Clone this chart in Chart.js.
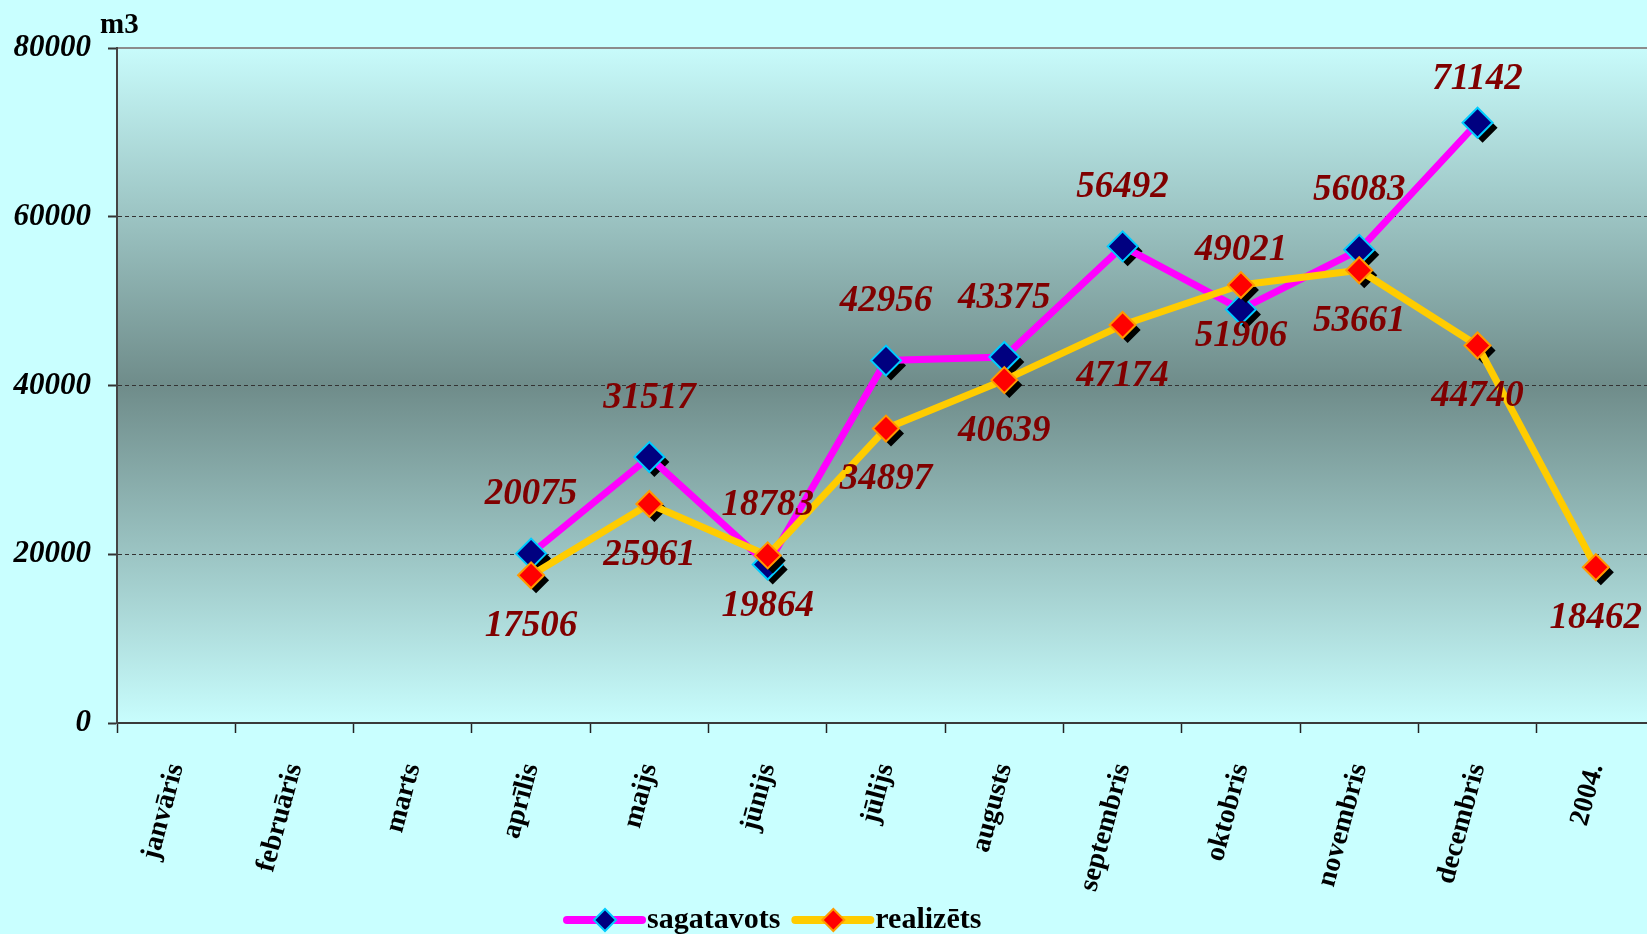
<!DOCTYPE html>
<html>
<head>
<meta charset="utf-8">
<script src="https://cdn.jsdelivr.net/npm/chart.js@4/dist/chart.umd.min.js"></script>
<style>
  html, body { margin: 0; padding: 0; overflow: hidden; background: #c9ffff; }
  #wrap { position: absolute; left: 0; top: 0; width: 1672px; height: 934px; }
</style>
</head>
<body>
<div id="wrap"><canvas id="chart" width="1672" height="934"></canvas></div>
<script>
// months + the year total
const months = ["janvāris", "februāris", "marts", "aprīlis", "maijs", "jūnijs", "jūlijs",
  "augusts", "septembris", "oktobris", "novembris", "decembris", "2004."];
const sagatavots = [null, null, null, 20075, 31517, 18783, 42956, 43375, 56492, 49021, 56083, 71142, null];
const realizets = [null, null, null, 17506, 25961, 19864, 34897, 40639, 47174, 51906, 53661, 44740, 18462];
const yTicks = [0, 20000, 40000, 60000, 80000];

const serif = "'Liberation Serif', 'DejaVu Serif', serif";

function diamond(ctx, x, y, r) {
  ctx.beginPath();
  ctx.moveTo(x - r, y);
  ctx.lineTo(x, y - r);
  ctx.lineTo(x + r, y);
  ctx.lineTo(x, y + r);
  ctx.closePath();
}

// gradient behind the plot, top border line and "m3"
const plotBackground = {
  id: "plotBackground",
  beforeDraw(chart) {
    const {ctx, chartArea: a} = chart;
    const g = ctx.createLinearGradient(0, a.top, 0, a.bottom);
    g.addColorStop(0, "#c8fbfb");
    g.addColorStop(0.5, "#6f8c8a");
    g.addColorStop(1, "#c8fdfd");
    ctx.save();
    ctx.fillStyle = g;
    ctx.fillRect(a.left, a.top, a.right - a.left, a.bottom - a.top);
    ctx.strokeStyle = "#8c8c8c";
    ctx.lineWidth = 2;
    ctx.beginPath();
    ctx.moveTo(a.left, a.top);
    ctx.lineTo(a.right, a.top);
    ctx.stroke();
    ctx.fillStyle = "#000";
    ctx.font = "bold 29px " + serif;
    ctx.textBaseline = "alphabetic";
    ctx.fillText("m3", a.left - 17, a.top - 15);
    ctx.restore();
  }
};

// black drop shadow under each marker
const markerShadow = {
  id: "markerShadow",
  beforeDatasetDraw(chart, args) {
    const ctx = chart.ctx;
    const ds = chart.data.datasets[args.index];
    ctx.save();
    ctx.fillStyle = "#000";
    args.meta.data.forEach((pt, i) => {
      if (ds.data[i] == null) return;
      diamond(ctx, pt.x + 5, pt.y + 5, ds.pointRadius);
      ctx.fill();
    });
    ctx.restore();
  }
};

// value labels: sagatavots above, realizēts below
const valueLabels = {
  id: "valueLabels",
  afterDatasetsDraw(chart) {
    const ctx = chart.ctx;
    const offsets = [-59, 51];
    const moved = { "0-11": -43 };   // the decembris label sits closer in the original
    ctx.save();
    ctx.font = "italic bold 37px " + serif;
    ctx.fillStyle = "#800000";
    ctx.textAlign = "center";
    ctx.textBaseline = "middle";
    chart.data.datasets.forEach((ds, di) => {
      chart.getDatasetMeta(di).data.forEach((pt, i) => {
        if (ds.data[i] == null) return;
        const dy = moved[di + "-" + i] ?? offsets[di];
        ctx.fillText(String(ds.data[i]), pt.x, pt.y + dy);
      });
    });
    ctx.restore();
  }
};

// legend with line + marker, like the original
const lineLegend = {
  id: "lineLegend",
  afterDraw(chart) {
    const ctx = chart.ctx;
    const y = 920;
    let x = 567;
    ctx.save();
    ctx.font = "bold 30px " + serif;
    ctx.textBaseline = "middle";
    chart.data.datasets.forEach(ds => {
      ctx.strokeStyle = ds.borderColor;
      ctx.lineWidth = 8;
      ctx.lineCap = "round";
      ctx.beginPath();
      ctx.moveTo(x, y);
      ctx.lineTo(x + 75, y);
      ctx.stroke();
      diamond(ctx, x + 38, y, 11);
      ctx.fillStyle = ds.pointBackgroundColor;
      ctx.fill();
      ctx.lineWidth = 2;
      ctx.strokeStyle = ds.pointBorderColor;
      ctx.stroke();
      ctx.fillStyle = "#000";
      ctx.fillText(ds.label, x + 80, y);
      x += 80 + ctx.measureText(ds.label).width + 15;
    });
    ctx.restore();
  }
};

new Chart(document.getElementById("chart"), {
  type: "line",
  data: {
    labels: months,
    datasets: [
      {
        label: "sagatavots",
        data: sagatavots,
        borderColor: "#ff00ff",
        borderWidth: 7,
        pointStyle: "rectRot",
        pointRadius: 15,
        pointBorderWidth: 2,
        pointBackgroundColor: "#000080",
        pointBorderColor: "#00ccff",
        order: 1
      },
      {
        label: "realizēts",
        data: realizets,
        borderColor: "#ffcc00",
        borderWidth: 7,
        pointStyle: "rectRot",
        pointRadius: 13,
        pointBorderWidth: 2,
        pointBackgroundColor: "#ff0000",
        pointBorderColor: "#ff9900",
        order: 0
      }
    ]
  },
  options: {
    responsive: false,
    animation: false,
    layout: { padding: { top: 48, right: 0, left: 0, bottom: 0 } },
    plugins: { legend: { display: false }, tooltip: { enabled: false } },
    scales: {
      x: {
        offset: true,
        afterFit(scale) {
          scale.height = 211;
          scale.paddingLeft = 0;
          scale.paddingRight = 0;
        },
        grid: { offset: true, drawOnChartArea: false, drawTicks: true, tickLength: 10, tickColor: "#222", tickWidth: 1.5 },
        border: { color: "#3a3a3a", width: 2 },
        ticks: {
          autoSkip: false,
          minRotation: 75,
          maxRotation: 75,
          padding: 27,
          color: "#000",
          font: { family: serif, size: 28, weight: "bold" }
        }
      },
      y: {
        min: 0,
        max: 80000,
        afterFit(scale) {
          scale.width = 117;
          scale.paddingTop = 0;
          scale.paddingBottom = 0;
        },
        afterBuildTicks(scale) { scale.ticks = yTicks.map(v => ({ value: v })); },
        grid: {
          color: c => (c.tick && (c.tick.value === 0 || c.tick.value === 80000)) ? "rgba(0,0,0,0)" : "#333",
          lineWidth: 1,
          tickLength: 9,
          tickColor: "#333",
          tickWidth: 2
        },
        border: { color: "#444", width: 2, dash: [4, 3] },
        ticks: {
          padding: 17,
          color: "#000",
          font: { family: serif, size: 31, weight: "bold", style: "italic" },
          callback: v => String(v)
        }
      }
    }
  },
  plugins: [plotBackground, markerShadow, valueLabels, lineLegend]
});
</script>
</body>
</html>
